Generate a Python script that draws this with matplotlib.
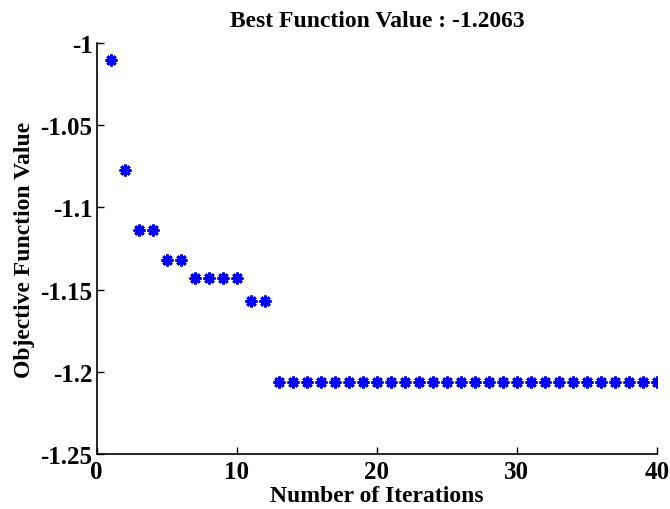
import numpy as np
import matplotlib
matplotlib.use('Agg')
import matplotlib.pyplot as plt

# 반복 횟수와 목적함수 값
iterations = np.arange(1, 41)
objective = [-1.0103, -1.0771, -1.1138, -1.1138, -1.1318, -1.1318,
             -1.1428, -1.1428, -1.1428, -1.1428, -1.1570, -1.1570] + [-1.2063] * 28
best_value = -1.2063

x_ticks = [0, 10, 20, 30, 40]
y_ticks = [-1.25, -1.2, -1.15, -1.1, -1.05, -1]
y_tick_labels = ['-1.25', '-1.2', '-1.15', '-1.1', '-1.05', '-1']

plt.rcParams['font.family'] = ['Liberation Serif', 'DejaVu Serif']
plt.rcParams['font.weight'] = 'bold'

fig = plt.figure(figsize=(6.7, 5.1), dpi=100)
ax = fig.add_axes([0.1443, 0.1078, 0.8363, 0.8059])

ax.plot(iterations, objective, linestyle='none', marker=(8, 2, 0),
        markersize=8.5, markeredgewidth=2.0, color='#0000ff')

ax.set_xlim(0, 40)
ax.set_ylim(-1.25, -1)
ax.set_xticks(x_ticks)
ax.set_yticks(y_ticks)
ax.set_yticklabels(y_tick_labels)

for s in ['top', 'right']:
    ax.spines[s].set_visible(False)
for s in ['left', 'bottom']:
    ax.spines[s].set_linewidth(1.2)
ax.tick_params(direction='in', length=5, width=1, labelsize=18)
ax.tick_params(axis='x', pad=4)
ax.tick_params(axis='y', pad=3)

ax.set_title(f'Best Function Value : {best_value}', fontsize=17, fontweight='bold', pad=12)
ax.set_xlabel('Number of Iterations', fontsize=17, fontweight='bold', labelpad=2)
ax.set_ylabel('Objective Function Value', fontsize=17, fontweight='bold', labelpad=4)

fig.savefig('out.png', dpi=100)
